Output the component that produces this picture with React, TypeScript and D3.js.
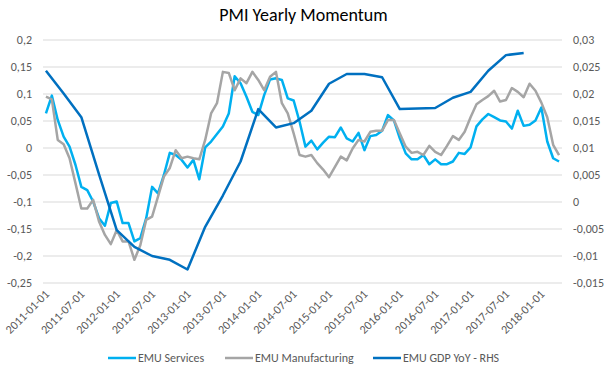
import React, { useEffect, useRef } from "react";
import * as d3 from "d3";

// monthly categories 2011-01 .. 2018-04
const months = d3
  .timeMonth.range(new Date(2011, 0, 1), new Date(2018, 4, 1))
  .map((d) => d3.timeFormat("%Y-%m-01")(d));

const tickLabels = [
  "2011-01-01", "2011-07-01", "2012-01-01", "2012-07-01", "2013-01-01",
  "2013-07-01", "2014-01-01", "2014-07-01", "2015-01-01", "2015-07-01",
  "2016-01-01", "2016-07-01", "2017-01-01", "2017-07-01", "2018-01-01",
];

const services = [
  0.064, 0.097, 0.052, 0.021, 0.0025, -0.031, -0.072, -0.078, -0.099, -0.13,
  -0.144, -0.102, -0.099, -0.139, -0.139, -0.173, -0.167, -0.13, -0.072, -0.084,
  -0.05, -0.009, -0.013, -0.022, -0.036, -0.022, -0.058, 0.001, 0.012, 0.026,
  0.04, 0.064, 0.133, 0.12, 0.095, 0.067, 0.061, 0.098, 0.127, 0.129,
  0.126, 0.092, 0.088, 0.049, 0.0025, 0.0136, -0.0025, 0.01, 0.021, 0.02,
  0.038, 0.018, 0.012, 0.028, -0.004, 0.022, 0.024, 0.032, 0.061, 0.051,
  0.018, -0.01, -0.021, -0.021, -0.013, -0.03, -0.021, -0.03, -0.03, -0.025,
  -0.009, -0.011, 0.001, 0.04, 0.053, 0.063, 0.057, 0.051, 0.049, 0.036,
  0.069, 0.041, 0.043, 0.051, 0.075, 0.012, -0.019, -0.025,
];

const manufacturing = [
  0.095, 0.09, 0.015, 0.007, -0.019, -0.065, -0.112, -0.112, -0.096, -0.136,
  -0.161, -0.178, -0.152, -0.173, -0.173, -0.207, -0.18, -0.133, -0.127, -0.09,
  -0.053, -0.037, -0.004, -0.019, -0.016, -0.019, -0.021, 0.015, 0.064, 0.083,
  0.141, 0.139, 0.107, 0.129, 0.12, 0.141, 0.126, 0.107, 0.132, 0.141,
  0.083, 0.064, 0.027, -0.013, -0.016, -0.013, -0.028, -0.04, -0.054, -0.035,
  -0.016, -0.023, -0.001, 0.015, 0.012, 0.03, 0.032, 0.032, 0.052, 0.052,
  0.027, 0.0025, -0.009, -0.007, -0.013, 0.004, -0.007, -0.013, 0.004, 0.022,
  0.015, 0.03, 0.057, 0.081, 0.089, 0.096, 0.106, 0.086, 0.089, 0.111,
  0.104, 0.094, 0.119, 0.106, 0.084, 0.057, 0.006, -0.013,
];

const gdpDates = [
  "2011-01-01", "2011-04-01", "2011-07-01", "2011-10-01", "2012-01-01", "2012-04-01",
  "2012-07-01", "2012-10-01", "2013-01-01", "2013-04-01", "2013-07-01", "2013-10-01",
  "2014-01-01", "2014-04-01", "2014-07-01", "2014-10-01", "2015-01-01", "2015-04-01",
  "2015-07-01", "2015-10-01", "2016-01-01", "2016-04-01", "2016-07-01", "2016-10-01",
  "2017-01-01", "2017-04-01", "2017-07-01", "2017-10-01",
];
const gdp = [
  0.0243, 0.0201, 0.0157, 0.0051, -0.0052, -0.0083, -0.01, -0.0107, -0.0125, -0.0046,
  0.0012, 0.0075, 0.0172, 0.0138, 0.0146, 0.0169, 0.0219, 0.0237, 0.0237, 0.0231,
  0.0172, 0.0173, 0.0174, 0.0193, 0.0204, 0.0243, 0.0272, 0.0276,
];

const leftTicks = [0.2, 0.15, 0.1, 0.05, 0, -0.05, -0.1, -0.15, -0.2, -0.25];
const rightTicks = [0.03, 0.025, 0.02, 0.015, 0.01, 0.005, 0, -0.005, -0.01, -0.015];

const series = [
  { name: "EMU Services", color: "#00b0f0" },
  { name: "EMU Manufacturing", color: "#a5a5a5" },
  { name: "EMU GDP YoY - RHS", color: "#0070c0" },
];

const W = 607;
const H = 371;
const font = "Carlito, Calibri, Lato, sans-serif";
const fmt = (v: number) => String(+v.toFixed(3)).replace(".", ",");

export default function App() {
  const ref = useRef<SVGSVGElement>(null);

  useEffect(() => {
    const svg = d3.select(ref.current);
    svg.selectAll("*").remove();

    const left = 43, right = 562, top = 40, bottom = 283;

    const x = d3.scaleBand().domain(months).range([left, right]).padding(0);
    const cx = (m: string) => (x(m) as number) + x.bandwidth() / 2;
    const yL = d3.scaleLinear().domain([-0.25, 0.2]).range([bottom, top]);
    const yR = d3.scaleLinear().domain([-0.015, 0.03]).range([bottom, top]);

    svg
      .append("text")
      .attr("x", W / 2)
      .attr("y", 21)
      .attr("text-anchor", "middle")
      .style("font-family", font)
      .style("font-size", "18px")
      .attr("fill", "#000")
      .text("PMI Yearly Momentum");

    svg
      .append("g")
      .selectAll("line")
      .data(leftTicks)
      .join("line")
      .attr("x1", left)
      .attr("x2", right)
      .attr("y1", (d) => yL(d))
      .attr("y2", (d) => yL(d))
      .attr("stroke", "#d9d9d9")
      .attr("stroke-width", 1);

    svg
      .append("g")
      .selectAll("text")
      .data(leftTicks)
      .join("text")
      .attr("x", 32)
      .attr("y", (d) => yL(d))
      .attr("dy", "0.35em")
      .attr("text-anchor", "end")
      .style("font-family", font)
      .style("font-size", "12px")
      .attr("fill", "#595959")
      .text((d) => fmt(d));

    svg
      .append("g")
      .selectAll("text")
      .data(rightTicks)
      .join("text")
      .attr("x", 573)
      .attr("y", (d) => yR(d))
      .attr("dy", "0.35em")
      .attr("text-anchor", "start")
      .style("font-family", font)
      .style("font-size", "12px")
      .attr("fill", "#595959")
      .text((d) => fmt(d));

    svg
      .append("g")
      .selectAll("text")
      .data(tickLabels)
      .join("text")
      .attr("transform", (d) => `translate(${cx(d) + 4},${bottom + 12}) rotate(-45)`)
      .attr("text-anchor", "end")
      .style("font-family", font)
      .style("font-size", "12px")
      .attr("fill", "#595959")
      .text((d) => d);

    const lineL = d3
      .line<number>()
      .x((_, i) => cx(months[i]))
      .y((d) => yL(d));

    svg
      .append("path")
      .attr("d", lineL(services))
      .attr("fill", "none")
      .attr("stroke", series[0].color)
      .attr("stroke-width", 2.5)
      .attr("stroke-linejoin", "round");

    svg
      .append("path")
      .attr("d", lineL(manufacturing))
      .attr("fill", "none")
      .attr("stroke", series[1].color)
      .attr("stroke-width", 2.5)
      .attr("stroke-linejoin", "round");

    const lineR = d3
      .line<number>()
      .x((_, i) => cx(gdpDates[i]))
      .y((d) => yR(d));

    svg
      .append("path")
      .attr("d", lineR(gdp))
      .attr("fill", "none")
      .attr("stroke", series[2].color)
      .attr("stroke-width", 2.5)
      .attr("stroke-linejoin", "round");

    const legendX = [108, 225, 373];
    const lg = svg
      .append("g")
      .selectAll("g")
      .data(series)
      .join("g")
      .attr("transform", (_, i) => `translate(${legendX[i]},358)`);
    lg.append("line")
      .attr("x1", 0)
      .attr("x2", 28)
      .attr("stroke", (d) => d.color)
      .attr("stroke-width", 2.5);
    lg.append("text")
      .attr("x", 30)
      .attr("dy", "0.35em")
      .style("font-family", font)
      .style("font-size", "12px")
      .attr("fill", "#595959")
      .text((d) => d.name);
  }, []);

  return (
    <svg
      ref={ref}
      width={W}
      height={H}
      style={{ position: "absolute", left: 0, top: 0, background: "#fff" }}
    />
  );
}
